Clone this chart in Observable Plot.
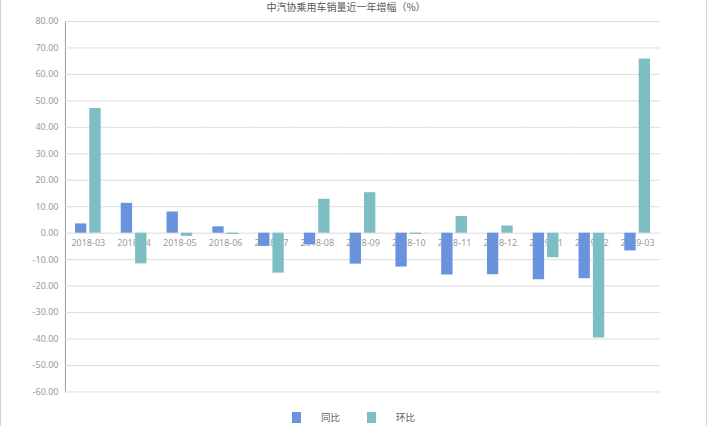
<!DOCTYPE html>
<html>
<head>
<meta charset="utf-8">
<script src="https://cdn.jsdelivr.net/npm/d3@7"></script>
<script src="https://cdn.jsdelivr.net/npm/@observablehq/plot@0.6"></script>
<style>
  body { margin: 0; background: #fff; font-family: "Noto Sans CJK SC", "Noto Sans", sans-serif; }
  #wrap { position: relative; width: 707px; height: 426px; box-sizing: border-box; border-left: 1px solid #d4d4d4; border-right: 1px solid #d4d4d4; overflow: hidden; background: #fff; }
  #title { position: absolute; left: 0; top: 1px; width: 690px; text-align: center; font-size: 10px; line-height: 12px; color: #595959; white-space: nowrap; }
  #chart { position: absolute; left: -1px; top: 14px; }
  .lg { position: absolute; top: 412px; width: 9px; height: 11px; }
  .lt { position: absolute; top: 410px; font-size: 9.5px; line-height: 14px; color: #595959; }
</style>
</head>
<body>
<div id="wrap">
  <div id="title">中汽协乘用车销量近一年增幅（%）</div>
  <div id="chart"></div>
  <div class="lg" style="left:291px;background:#6a93de"></div>
  <div class="lt" style="left:320px">同比</div>
  <div class="lg" style="left:366px;background:#7dbec4"></div>
  <div class="lt" style="left:395px">环比</div>
</div>
<script>
const months = ["2018-03","2018-04","2018-05","2018-06","2018-07","2018-08","2018-09","2018-10","2018-11","2018-12","2019-01","2019-02","2019-03"];
const seriesNames = ["同比", "环比"];
const yoy = [3.5, 11.3, 8.0, 2.4, -5.0, -4.4, -11.7, -12.8, -15.8, -15.7, -17.6, -17.2, -6.7];
const mom = [47.1, -11.6, -1.2, -0.5, -15.1, 12.8, 15.3, -0.5, 6.3, 2.7, -9.3, -39.6, 65.8];
const yTicks = [-60, -50, -40, -30, -20, -10, 0, 10, 20, 30, 40, 50, 60, 70, 80];
const colors = ["#6a93de", "#7dbec4"];

const data = months.flatMap((m, i) => [
  {month: m, series: seriesNames[0], value: yoy[i]},
  {month: m, series: seriesNames[1], value: mom[i]}
]);

const chart = Plot.plot({
  width: 707,
  height: 392,
  marginLeft: 65,
  marginRight: 46,
  marginTop: 7,
  marginBottom: 14,
  facet: {data: data, x: "month"},
  fx: {domain: months, padding: 0, round: false, axis: null, label: null},
  x: {domain: seriesNames, paddingInner: 0.21, paddingOuter: 0.7, round: false, axis: null},
  y: {domain: [-60, 80], ticks: yTicks, tickFormat: d => d.toFixed(2), tickSize: 0, tickPadding: 7, label: null, line: true},
  color: {domain: seriesNames, range: colors},
  style: {fontSize: "9px", color: "#9a9a9a", fontFamily: "'Noto Sans', sans-serif", background: "transparent"},
  marks: [
    Plot.ruleY(yTicks, {stroke: "#dcdcdc", strokeWidth: 1}),
    Plot.text(data, {filter: d => d.series === seriesNames[0], y: 0, text: "month", dy: 10, fill: "#9a9a9a", fontSize: 9}),
    Plot.barY(data, {x: "series", y: "value", fill: "series"})
  ]
});
document.getElementById("chart").appendChild(chart);
</script>
</body>
</html>
